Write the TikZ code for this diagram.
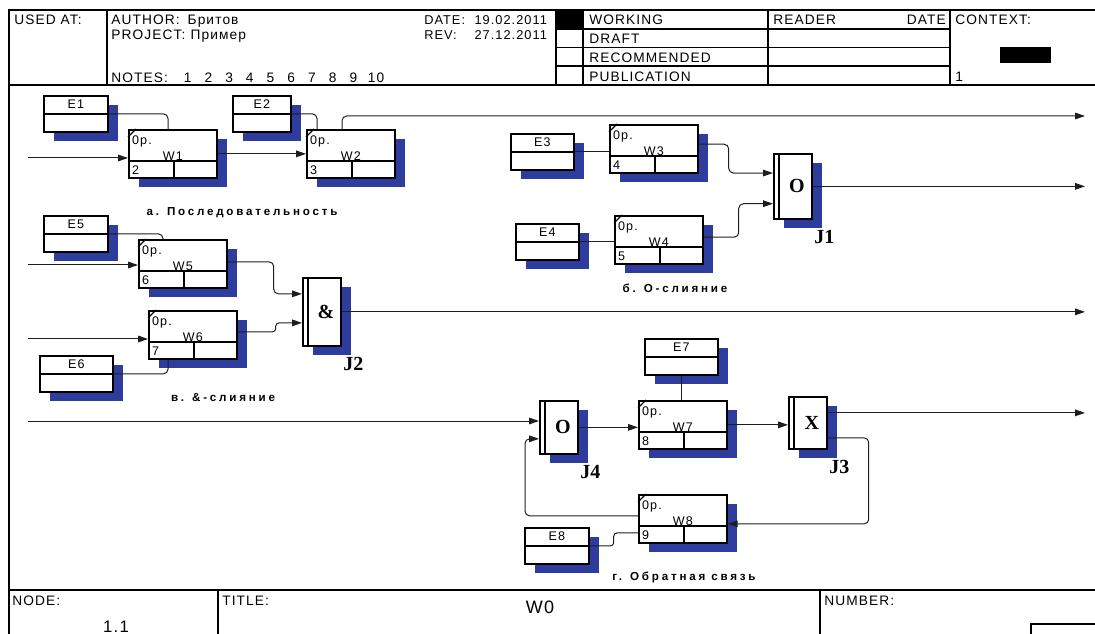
\documentclass[tikz,border=0pt]{standalone}
\usepackage{fontspec}
\setmainfont{Liberation Sans}
\newfontfamily\hdrfont{Liberation Sans}[LetterSpace=8]
\newfontfamily\boxfont{Liberation Sans}[LetterSpace=10]
\newfontfamily\capfont{Liberation Sans}[LetterSpace=24]
\newfontfamily\jfont{Liberation Serif}
\usetikzlibrary{arrows.meta,positioning,calc,shadows}

\definecolor{idefblue}{RGB}{46,60,158}
\definecolor{wire}{RGB}{30,30,30}

\tikzset{
  frame/.style={line width=0.8pt},
  hdr/.style={font=\hdrfont\fontsize{10.3}{12}\selectfont, inner sep=0pt},
  hdrdate/.style={hdr, font=\hdrfont\fontsize{9.6}{12}\selectfont},
  boxtext/.style={font=\boxfont\fontsize{9.4}{10}\selectfont, inner sep=0pt},
  captext/.style={font=\capfont\bfseries\fontsize{8.7}{10}\selectfont, inner sep=0pt},
  jname/.style={font=\jfont\bfseries\fontsize{15}{15}\selectfont, inner sep=0pt, anchor=north west},
  bshadow/.style={drop shadow={shadow xshift=7.5pt, shadow yshift=-7pt, fill=idefblue, opacity=1}},
  boxline/.style={line width=1.3pt},
  entbox/.style={draw, boxline, fill=white, anchor=north west, inner sep=0pt, minimum height=27pt, bshadow},
  workbox/.style={draw, boxline, fill=white, anchor=north west, inner sep=0pt,
    minimum width=66pt, minimum height=36pt, bshadow},
  juncbox/.style={draw, boxline, fill=white, anchor=north west, inner sep=0pt, minimum width=28.5pt, bshadow,
    font=\jfont\bfseries\fontsize{15}{15}\selectfont},
  link/.style={draw=wire, line width=0.75pt, rounded corners=3.5pt},
  flow/.style={link, -{Triangle[length=7.5pt,width=5pt]}},
}

% entity box: name, x, y, width, text
\newcommand{\idefent}[5]{%
  \node[entbox, minimum width=#4] (#1) at (#2,#3) {};
  \draw[boxline] (#1.west) -- (#1.east);
  \node[boxtext] (#1-lb) at ([yshift=-6.75pt]#1.north) {#5};
}
% work box: name, x, y, text, number
\newcommand{\idefwork}[5]{%
  \node[workbox] (#1) at (#2,#3) {};
  \draw[boxline] ([yshift=13.5pt]#1.south west) -- ([yshift=13.5pt]#1.south east);
  \draw[boxline] ([xshift=34.5pt]#1.south west) -- ([xshift=34.5pt,yshift=13.5pt]#1.south west);
  \draw[line width=1pt] ([yshift=-6pt]#1.north west) -- ([xshift=6pt]#1.north west);
  \node[boxtext, anchor=base west] (#1-op) at ([shift={(2.8pt,-11.5pt)}]#1.north west) {0р.};
  \node[boxtext, anchor=base] (#1-lb) at ([yshift=14pt]#1.south) {#4};
  \node[boxtext, anchor=base west] (#1-nr) at ([shift={(2.8pt,3pt)}]#1.south west) {#5};
}
% junction: name, x, y, height, sign, label
\newcommand{\idefjunc}[6]{%
  \node[juncbox, minimum height=#4] (#1) at (#2,#3) {\hspace*{6pt}#5};
  \draw[boxline] ([xshift=4.5pt]#1.south west) -- ([xshift=4.5pt]#1.north west);
  \node[jname] (#1-lb) at ([shift={(1pt,-7.5pt)}]#1.south east) {#6};
}

\begin{document}
\begin{tikzpicture}[x=0.75pt, y=-0.75pt]
  \useasboundingbox (0,0) rectangle (1095,634);

  % form
  \draw[frame] (9,634) -- (9,10) -- (1095,10);
  \draw[frame] (9,85) -- (1095,85);
  \draw[frame] (9,590) -- (1095,590);
  \foreach \x in {107,556,583,768,950}
    \draw[frame] (\x,10) -- (\x,85);
  \foreach \y in {29,47.5,66}
    \draw[frame] (556,\y) -- (950,\y);
  \fill (557,10) rectangle (582,28.5);
  \fill (1000,47.5) rectangle (1051,63);
  \draw[frame] (218,590) -- (218,634);
  \draw[frame] (820,590) -- (820,634);
  \draw[frame] (1031,634) |- (1095,624);

  \node[hdr, anchor=base west] (usedat) at (14,25) {USED AT:};
  \node[hdr, anchor=base west] (author) at (111,25) {AUTHOR:\hspace{6pt}Бритов};
  \node[hdr, anchor=base west] (project) at (111,40) {PROJECT:\hspace{4pt}Пример};
  \node[hdr, anchor=base west] (notes) at (111,83) {NOTES:\hspace{12pt}1\hspace{9.8pt}2\hspace{9.8pt}3\hspace{9.8pt}4\hspace{9.8pt}5\hspace{9.8pt}6\hspace{9.8pt}7\hspace{9.8pt}8\hspace{9.8pt}9\hspace{8pt}10};
  \node[hdrdate, anchor=base west] (date) at (424,25) {\makebox[92pt][l]{DATE:\hfill 19.02.2011}};
  \node[hdrdate, anchor=base west] (rev) at (424,40) {\makebox[92pt][l]{REV:\hfill 27.12.2011}};
  \node[hdr, anchor=base west] (working) at (589,25) {WORKING};
  \node[hdr, anchor=base west] (draft) at (589,44) {DRAFT};
  \node[hdr, anchor=base west] (recomm) at (589,62.5) {RECOMMENDED};
  \node[hdr, anchor=base west] (public) at (589,81.5) {PUBLICATION};
  \node[hdr, anchor=base west] (reader) at (773,25) {READER};
  \node[hdr, anchor=base east] (rdate) at (946,25) {DATE};
  \node[hdr, anchor=base west] (context) at (955,25) {CONTEXT:};
  \node[hdr, anchor=base west] (ctxnum) at (955,82) {1};
  \node[hdr, anchor=base west] (nodelbl) at (12,605) {NODE:};
  \node[hdr, anchor=base, font=\hdrfont\fontsize{12.5}{14}\selectfont] (nodenum) at (116,632) {1.1};
  \node[hdr, anchor=base west] (titlelbl) at (222,605) {TITLE:};
  \node[hdr, anchor=base, font=\hdrfont\fontsize{13.5}{14}\selectfont] (titlename) at (540,613) {W0};
  \node[hdr, anchor=base west] (numlbl) at (824,605) {NUMBER:};

  % a
  \idefent{e1}{43}{95}{48pt}{E1}
  \idefent{e2}{232}{95}{43.5pt}{E2}
  \idefwork{w1}{128}{129}{W1}{2}
  \idefwork{w2}{306}{129}{W2}{3}
  % b
  \idefent{e3}{510}{133}{47.25pt}{E3}
  \idefent{e4}{515}{223}{47.25pt}{E4}
  \idefwork{w3}{609}{124}{W3}{4}
  \idefwork{w4}{614}{215}{W4}{5}
  \idefjunc{j1}{773}{153}{48.75pt}{O}{J1}
  % c
  \idefent{e5}{43}{215}{48pt}{E5}
  \idefent{e6}{39}{355}{54.75pt}{E6}
  \idefwork{w5}{138}{239}{W5}{6}
  \idefwork{w6}{148}{310}{W6}{7}
  \idefjunc{j2}{302}{277}{51pt}{\&}{J2}
  % d
  \idefent{e7}{644}{338}{54.75pt}{E7}
  \idefent{e8}{524}{527}{48pt}{E8}
  \idefwork{w7}{638}{400}{W7}{8}
  \idefwork{w8}{638}{494}{W8}{9}
  \idefjunc{j4}{539}{400}{39.75pt}{O}{J4}
  \idefjunc{j3}{788}{396}{39pt}{X}{J3}

  \node[captext] (cap-a) at (242,213) {а. Последовательность};
  \node[captext] (cap-b) at (675,288) {б. О-слияние};
  \node[captext] (cap-c) at (223,398) {в. \&-слияние};
  \node[captext] (cap-d) at (684,577) {г. Обратная связь};

  \coordinate (rim) at (1085,0);
  \coordinate (src-w1) at (28,158);
  \coordinate (src-w5) at (28,265);
  \coordinate (src-w6) at (28,339);
  \coordinate (src-j4) at (28,421);
  \coordinate (out-w2) at (1085,116);

  % connectors a
  \draw[flow] (src-w1) -- (src-w1 -| w1.west);
  \draw[link] (e1.east) -| ([xshift=30pt]w1.north west);
  \draw[flow] (w1.east) -- (w2.west);
  \draw[link] (e2.east) -| ([xshift=8.25pt]w2.north west);
  \draw[flow] ([xshift=27pt]w2.north west) |- (out-w2);
  % connectors b
  \draw[link] (e3.east) -- (e3.east -| w3.west);
  \draw[flow] ([yshift=3.5pt]w3.east) -- ++(30,0) |- ([yshift=10pt]j1.west);
  \draw[link] (e4.east) -- (e4.east -| w4.west);
  \draw[flow] ([yshift=2pt]w4.east) -- ++(35,0) |- ([yshift=-13pt]j1.west);
  \draw[flow] (j1.east) -- (j1.east -| rim);
  % connectors c
  \draw[link] (e5.east) -| ([xshift=18.75pt]w5.north west);
  \draw[flow] (src-w5) -- (src-w5 -| w5.west);
  \draw[flow] ([yshift=1.5pt]w5.east) -- ++(46,0) |- ([yshift=13.5pt]j2.west);
  \draw[flow] (src-w6) -- (src-w6 -| w6.west);
  \draw[flow, rounded corners=2.5pt] ([yshift=2.25pt]w6.east) -- ++(38,0) |- ([yshift=-8.25pt]j2.west);
  \draw[link] (e6.east) -| ([xshift=15pt]w6.south west);
  \draw[flow] (j2.east) -- (j2.east -| rim);
  % connectors d
  \draw[flow] (src-j4) -- (src-j4 -| j4.west);
  \draw[flow] (j4.east) -- (j4.east -| w7.west);
  \draw[link] (e7.south) -- (e7.south |- w7.north);
  \draw[flow] (w7.east) -- (w7.east -| j3.west);
  \draw[flow] ([yshift=7.5pt]j3.east) -- ([yshift=7.5pt]j3.east -| rim);
  \draw[flow] ([yshift=-11.25pt]j3.east) -- ++(41,0) |- ([yshift=-3.75pt]w8.east);
  \draw[flow] ([yshift=2.25pt]w8.west) -- ++(-113,0) |- ([yshift=-8.6pt]j4.west);
  \draw[link, rounded corners=2.5pt] (e8.east) -- ++(24,0) |- ([yshift=-10.5pt]w8.west);
\end{tikzpicture}
\end{document}
